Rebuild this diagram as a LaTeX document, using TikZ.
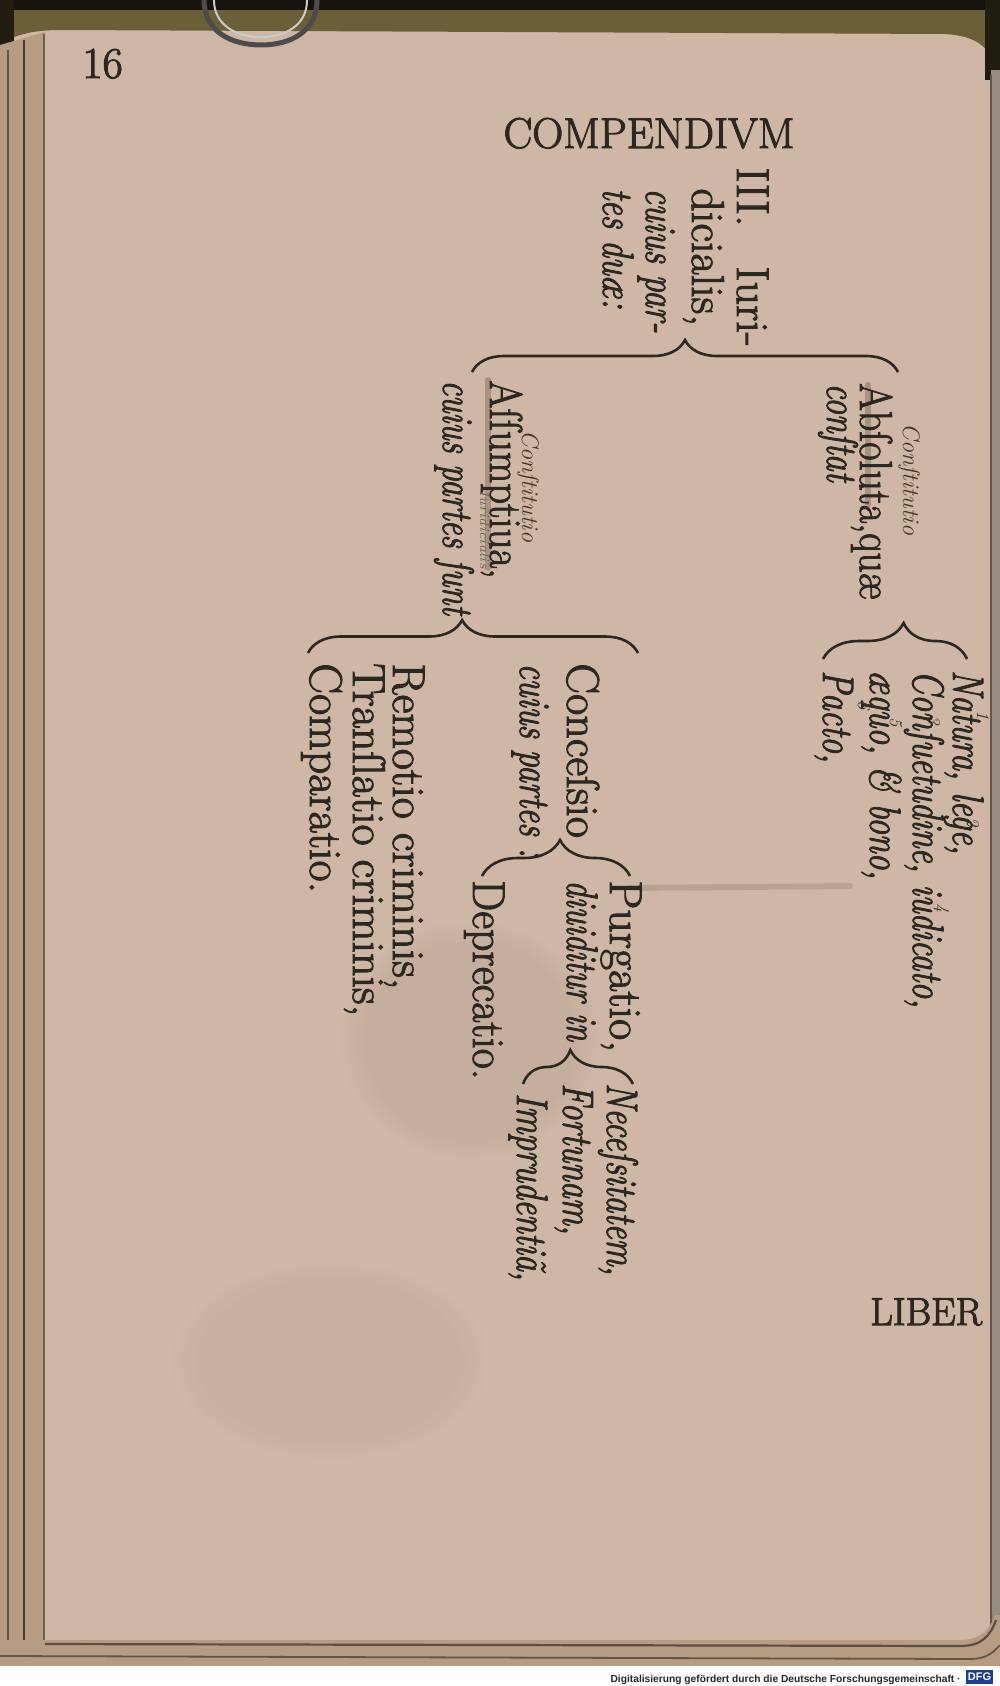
\documentclass[tikz,border=0pt]{standalone}
\usepackage{fontspec}
\usepackage{graphicx}
\usetikzlibrary{decorations.pathreplacing,fadings}
\newfontfamily\footfont{Liberation Sans}
\definecolor{paperc}{HTML}{CFB7A5}
\definecolor{stackc}{HTML}{B59C83}
\definecolor{olivec}{HTML}{6A5F36}
\definecolor{inkc}{HTML}{2B2822}
\definecolor{handc}{HTML}{3D372E}
\definecolor{pencilc}{HTML}{8C7462}
\definecolor{dfgblue}{HTML}{1D3F93}
\newcommand\inkon{\special{pdf:literal direct 2 Tr 0.5 w}}
\newcommand\inkoff{\special{pdf:literal direct 0 Tr 0.4 w}}
\newcommand\itx[1]{\scalebox{0.77}[1]{\fontsize{22}{26}\selectfont\itshape #1}}
\newcommand\nar[2]{\scalebox{#1}[1]{#2}}
\begin{document}
\begin{tikzpicture}[x=0.5pt,y=-0.5pt,
  heavy/.style={execute at begin node=\inkon, execute at end node=\inkoff},
  txt/.style={heavy, rotate=-90, anchor=base west, inner sep=0pt, text=inkc, font=\fontsize{23}{26}\selectfont},
  hand/.style={rotate=-90, anchor=base west, inner sep=0pt, text=handc, font=\fontsize{12}{14}\selectfont\itshape},
  handnum/.style={rotate=-90, anchor=base west, inner sep=0pt, text=handc, font=\fontsize{9}{10}\selectfont\itshape},
  brc/.style 2 args={draw=inkc, line width=1.3pt, decorate, decoration={brace, amplitude=#1, aspect=#2}},
  pencil/.style={draw=pencilc, line width=3pt, opacity=0.55, line cap=round}]
\useasboundingbox (0,0) rectangle (1000,1686);
% ---------- paper and book ----------
\fill[paperc] (0,0) rectangle (1000,1686);
\fill[olivec] (0,0) -- (1000,0) -- (1000,75) .. controls (990,45) and (975,36) .. (945,34)
  -- (60,30) .. controls (30,30) and (12,36) .. (0,45) -- cycle;
\fill[black!80!olivec] (0,0) rectangle (1000,10);
\fill[black!70!olivec] (0,0) rectangle (14,60);
\fill[black!70!olivec] (985,0) rectangle (1000,80);
% metal clasp ring
\draw[gray!60!black, line width=2.5pt] (204,0) .. controls (204,32) and (232,45) .. (261,45)
  .. controls (290,45) and (317,32) .. (317,0);
\draw[gray!40, line width=1pt] (214,0) .. controls (214,25) and (236,37) .. (261,37)
  .. controls (286,37) and (307,25) .. (307,0);
% left page stack
\fill[stackc] (0,45) -- (45,32) -- (45,1650) -- (0,1650) -- cycle;
\draw[black!45!stackc, line width=1pt] (8,50) -- (8,1650);
\draw[black!60!stackc, line width=1.4pt] (24,40) -- (24,1650);
\draw[black!40!stackc, line width=0.8pt] (44,34) -- (44,1640);
% right edge
\fill[gray!55!stackc] (991,70) rectangle (1000,1660);
\draw[black!45!stackc, line width=1pt] (991,75) -- (991,1640);
% bottom edge
\fill[stackc] (0,1640) -- (960,1640) .. controls (980,1640) and (990,1630) .. (995,1615) -- (1000,1615) -- (1000,1666) -- (0,1666) -- cycle;
\draw[black!50!stackc, line width=1.1pt] (45,1644) -- (960,1646) .. controls (982,1646) and (990,1636) .. (996,1620);
\draw[black!45!stackc, line width=0.9pt] (0,1656) -- (970,1659) .. controls (985,1659) and (992,1654) .. (1000,1645);
\fill[white] (0,1666) rectangle (1000,1686);
% stains
\fill[black!60!paperc, opacity=0.08, path fading=circle with fuzzy edge 20 percent] (470,1040) ellipse (130 and 120);
\fill[black!60!paperc, opacity=0.05, path fading=circle with fuzzy edge 20 percent] (330,1360) ellipse (160 and 100);
\draw[black!60!paperc, line width=3pt, opacity=0.18, line cap=round] (630,888) -- (850,886);
% ---------- printed text ----------
\node[heavy, anchor=base west, inner sep=0pt, text=inkc, font=\fontsize{22}{24}\selectfont] (pg) at (82,78) {\oldstylenums{16}};
\node[heavy, anchor=base, inner sep=0pt, text=inkc, font=\fontsize{21.5}{24}\selectfont] (hd) at (649,148) {COMPENDIVM};
\node[heavy, anchor=base west, inner sep=0pt, text=inkc, font=\fontsize{19.5}{22}\selectfont] (cw) at (870,1325) {LIBER};
% III. Iuridicialis
\node[txt] (t1) at (737,167) {III.\hspace{20pt}Iuri-};
\node[txt] (t2) at (692,188) {dicialis,};
\node[txt] (t3) at (646,188) {\itx{cuius par-}};
\node[txt] (t4) at (603,188) {\itx{tes duæ:}};
% Absoluta
\draw[pencil] (868,385) -- (868,505);
\node[txt] (ab) at (860,383) {\nar{0.865}{Abſoluta,quæ}};
\node[txt] (ab2) at (827,383) {\itx{conſtat}};
\node[hand] (abh) at (903,423) {Conſtitutio};
% Assumptiua
\draw[pencil] (488,380) -- (488,568);
\node[txt] (as) at (490,380) {\nar{0.885}{Aſſumptiua,}};
\node[txt] (as2) at (443,380) {\scalebox{0.97}[1]{\itx{cuius partes ſunt}}};
\node[hand] (ash) at (522,430) {Conſtitutio};
\node[hand, font=\fontsize{7}{8}\selectfont\itshape, text=handc!70!paperc] (ash2) at (480,490) {Iuridicialis};
% Absoluta children
\node[txt] (n1) at (953,670) {\itx{Natura, lege,}};
\node[txt] (n2) at (913,670) {\itx{Conſuetudine, iudicato,}};
\node[txt] (n3) at (870,670) {\itx{æquo, \& bono,}};
\node[txt] (n4) at (823,670) {\itx{Pacto,}};
\node[handnum] (h1) at (977,710) {1};
\node[handnum] (h2) at (967,817) {2};
\node[handnum] (h3) at (928,715) {3};
\node[handnum] (h4) at (937,903) {4};
\node[handnum] (h5) at (890,717) {5};
\node[handnum] (h6) at (858,700) {6};
% Assumptiua children
\node[txt] (cc) at (567,663) {Conceſsio};
\node[txt] (cc2) at (520,663) {\itx{cuius partes :}};
\node[txt] (rm) at (393,663) {Remotio criminis,};
\node[txt] (tr) at (353,663) {Tranſlatio criminis,};
\node[txt] (cp) at (310,663) {Comparatio.};
% Concessio children
\node[txt] (pu) at (610,880) {Purgatio,};
\node[txt] (pu2) at (567,880) {\scalebox{0.97}[1]{\itx{diuiditur in}}};
\node[txt] (de) at (473,880) {\nar{0.95}{Deprecatio.}};
% Purgatio children
\node[txt] (ne) at (607,1083) {\itx{Neceſsitatem,}};
\node[txt] (fo) at (563,1083) {\itx{Fortunam,}};
\node[txt] (im) at (517,1093) {\itx{Imprudentiã,}};
% ---------- braces ----------
\coordinate (bA1) at (472,372); \coordinate (bA2) at (898,372);
\draw[brc={16pt}{0.5}] (bA1) -- (bA2);
\coordinate (bB1) at (823,659); \coordinate (bB2) at (967,659);
\draw[brc={18pt}{0.56}] (bB1) -- (bB2);
\coordinate (bC1) at (308,653); \coordinate (bC2) at (638,653);
\draw[brc={16.5pt}{0.467}] (bC1) -- (bC2);
\coordinate (bD1) at (482,876); \coordinate (bD2) at (630,876);
\draw[brc={18pt}{0.527}] (bD1) -- (bD2);
\coordinate (bE1) at (523,1084); \coordinate (bE2) at (633,1084);
\draw[brc={17pt}{0.43}] (bE1) -- (bE2);
% ---------- footer ----------
\node[anchor=base east, inner sep=0pt, text=black!85] (foot) at (961,1682)
  {\resizebox{175pt}{!}{\footfont\bfseries Digitalisierung gefördert durch die Deutsche Forschungsgemeinschaft ·}};
\node[fill=dfgblue, text=white, inner sep=0pt, minimum width=13.5pt, minimum height=7pt,
  font=\footfont\bfseries\fontsize{5.5}{6}\selectfont] (dfg) at (979.5,1677) {DFG};
\end{tikzpicture}
\end{document}
